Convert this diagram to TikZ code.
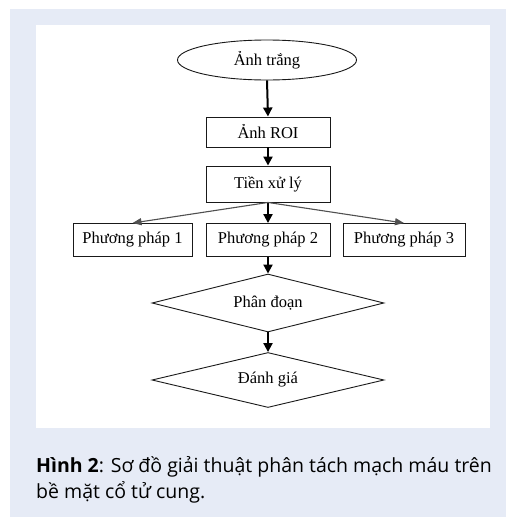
\documentclass[tikz,border=0pt]{standalone}
\usepackage{fontspec}
\setmainfont{Liberation Serif}
\newfontfamily\captionfont{Open Sans}
\usetikzlibrary{shapes.geometric,arrows.meta}
\definecolor{panelbg}{RGB}{230,235,246}
\definecolor{edgegrey}{RGB}{80,80,80}
\tikzset{
  boxnode/.style={draw=black!90, line width=0.9pt, minimum width=124pt, inner sep=0pt, font=\fontsize{16.5}{19}\selectfont},
  startnode/.style={ellipse, draw=black!90, line width=0.9pt, minimum width=179pt, minimum height=40pt, inner sep=0pt, font=\fontsize{16.5}{19}\selectfont},
  decnode/.style={diamond, aspect=4, draw=black!90, line width=0.9pt, minimum width=232pt, inner sep=0pt, font=\fontsize{16.5}{19}\selectfont},
  mainarrow/.style={-{Triangle[length=9pt,width=9pt]}, line width=2pt, black},
  sidearrow/.style={-{Triangle[length=9pt,width=7pt]}, line width=1.1pt, edgegrey}
}
\begin{document}
\begin{tikzpicture}[x=1pt,y=-1pt]
  \useasboundingbox (0,0) rectangle (506,517);
  \fill[panelbg] (10,9) rectangle (506,517);
  \fill[white] (36,25) rectangle (490,428);
  % flow chart
  \node[startnode] (start) at (267,60) {Ảnh trắng};
  \node[boxnode, minimum height=30pt] (roi) at (268,132) {Ảnh ROI};
  \node[boxnode, minimum height=36pt] (pre) at (268,184) {Tiền xử lý};
  \node[boxnode, minimum width=119pt, minimum height=33pt] (pp1) at (132.5,240) {Phương pháp 1};
  \node[boxnode, minimum height=33pt] (pp2) at (268,240) {Phương pháp 2};
  \node[boxnode, minimum width=122pt, minimum height=33pt] (pp3) at (404,240) {Phương pháp 3};
  \node[decnode, minimum height=58pt] (seg) at (268,303) {Phân đoạn};
  \node[decnode, minimum height=55pt] (eval) at (268,380) {Đánh giá};
  \begin{scope}[mainarrow]
    \draw (start.south) -- (roi.north);
    \draw (roi.south) -- (pre.north);
    \draw (pre.south) -- (pp2.north);
    \draw (pp2.south) -- (seg.north);
    \draw (seg.south) -- (eval.north);
  \end{scope}
  \begin{scope}[sidearrow]
    \draw (pre.south) -- (pp1.north);
    \draw (pre.south) -- (pp3.north);
  \end{scope}
  % caption
  \node[anchor=base west, inner sep=0pt, font=\captionfont\fontsize{19.5}{22}\selectfont] (cap1) at (36,472)
    {\textbf{Hình 2}: Sơ đồ giải thuật phân tách mạch máu trên};
  \node[anchor=base west, inner sep=0pt, font=\captionfont\fontsize{19.5}{22}\selectfont] (cap2) at (36,498)
    {bề mặt cổ tử cung.};
\end{tikzpicture}
\end{document}
